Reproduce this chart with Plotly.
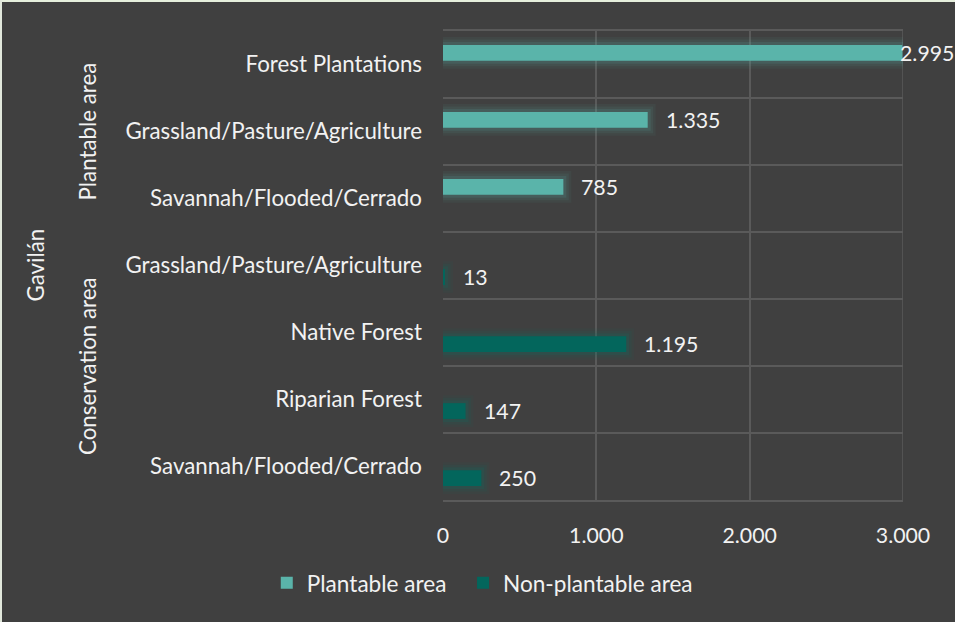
import plotly.graph_objects as go

# --- data -------------------------------------------------------------------
region = "Gavilán"
groups = ["Plantable area", "Plantable area", "Plantable area",
          "Conservation area", "Conservation area", "Conservation area",
          "Conservation area"]
land_cover = ["Forest Plantations", "Grassland/Pasture/Agriculture",
              "Savannah/Flooded/Cerrado", "Grassland/Pasture/Agriculture",
              "Native Forest", "Riparian Forest", "Savannah/Flooded/Cerrado"]
plantable = [2995, 1335, 785, None, None, None, None]
non_plantable = [None, None, None, 13, 1195, 147, 250]
series_names = ["Plantable area", "Non-plantable area"]
x_ticks = [0, 1000, 2000, 3000]
x_tick_labels = ["0", "1.000", "2.000", "3.000"]

# --- layout constants ---------------------------------------------------------
W, H = 955, 622
ML, MR, MT, MB = 443, 52, 31, 122
PLOT_W, PLOT_H = W - ML - MR, H - MT - MB
X_MAX = 3000

BG = "#404040"
GRID = "#5a5a5a"
TXT = "#F2F2F2"
FONT = "Lato"
FS_TEXT = 22.3     # category / group labels
FS_NUM = 21.3      # numbers
FS_LEG = 22.6
COLORS = ["#5AB4AA", "#03665C"]
GLOW_RGB = ["90,180,170", "3,120,105"]

BAR_W = 0.235             # bar thickness in category units
SHIFTS = [-0.172, 0.172]  # plantable sits above, non-plantable below the row centre
LABEL_GAP = 16            # px between bar end and its value label
LEGEND_PAD = "\u00a0" * 2  # extra room between legend entries

rows = list(range(len(land_cover)))


def px_x(px):
    """pixel column -> paper x"""
    return (px - ML) / PLOT_W


def px_y(py):
    """pixel row (from top) -> paper y"""
    return (H - py - MB) / PLOT_H


def fmt(v):
    return f"{v:,}".replace(",", ".")


fig = go.Figure()

series = [plantable, non_plantable]
for i, (values, name, color, glow, shift) in enumerate(zip(
        series, series_names, COLORS, GLOW_RGB, SHIFTS)):
    # soft glow behind each bar
    for lw, alpha in [(16, 0.06), (11, 0.09), (6, 0.14)]:
        fig.add_trace(go.Bar(
            x=values, y=rows, orientation="h", width=BAR_W,
            offset=shift - BAR_W / 2,
            marker=dict(color="rgba(0,0,0,0)",
                        line=dict(color=f"rgba({glow},{alpha})", width=lw)),
            showlegend=False, hoverinfo="skip"))
    legend_name = name + (LEGEND_PAD if i < len(series) - 1 else "")
    fig.add_trace(go.Bar(
        x=values, y=rows, orientation="h", width=BAR_W,
        offset=shift - BAR_W / 2, name=legend_name,
        marker=dict(color=color, line=dict(width=0))))

# value labels to the right of each bar
annotations = []
for values, shift in zip(series, SHIFTS):
    for r, v in zip(rows, values):
        if v is None:
            continue
        text = fmt(v)
        end_px = ML + v / X_MAX * PLOT_W
        est_w = len(text) * 0.52 * FS_NUM
        xshift = LABEL_GAP
        if end_px + LABEL_GAP + est_w > W - 2:
            xshift = (W - 2 - est_w) - end_px
        annotations.append(dict(
            x=v, y=r + shift, xref="x", yref="y", text=text,
            showarrow=False, xanchor="left", yanchor="middle", xshift=xshift,
            font=dict(family=FONT, size=FS_NUM, color=TXT)))

# group labels (rotated)
group_names = []
for g in groups:
    if g not in group_names:
        group_names.append(g)
for g in group_names:
    idx = [r for r, gg in zip(rows, groups) if gg == g]
    annotations.append(dict(
        x=px_x(87), y=sum(idx) / len(idx), xref="paper", yref="y",
        text=g, textangle=-90, showarrow=False,
        xanchor="center", yanchor="middle",
        font=dict(family=FONT, size=FS_TEXT, color=TXT)))

annotations.append(dict(
    x=px_x(35), y=(rows[0] + rows[-1]) / 2, xref="paper", yref="y",
    text=region, textangle=-90, showarrow=False,
    xanchor="center", yanchor="middle",
    font=dict(family=FONT, size=FS_TEXT, color=TXT)))

shapes = [
    # right-hand border of the plot area
    dict(type="line", xref="x", yref="paper", x0=X_MAX, x1=X_MAX, y0=0, y1=1,
         line=dict(color=GRID, width=1.5), layer="below"),
    # light frame strips along the top and left edges of the image
    dict(type="rect", xref="paper", yref="paper", x0=px_x(0), x1=px_x(W),
         y0=px_y(2), y1=px_y(0), fillcolor="#E6EFDD", line=dict(width=0),
         layer="above"),
    dict(type="rect", xref="paper", yref="paper", x0=px_x(0), x1=px_x(2),
         y0=px_y(H), y1=px_y(0), fillcolor="#E2E8DC", line=dict(width=0),
         layer="above"),
]

fig.update_layout(
    width=W, height=H,
    margin=dict(l=ML, r=MR, t=MT, b=MB, pad=0),
    paper_bgcolor=BG, plot_bgcolor=BG,
    barmode="overlay",
    separators=",.",
    font=dict(family=FONT, size=FS_TEXT, color=TXT),
    annotations=annotations,
    shapes=shapes,
    showlegend=True,
    legend=dict(orientation="h", xref="container", yref="container",
                x=0.505, xanchor="center", y=1 - 583 / H, yanchor="middle",
                itemwidth=30,
                font=dict(family=FONT, size=FS_LEG, color=TXT),
                bgcolor="rgba(0,0,0,0)", traceorder="normal"),
    xaxis=dict(range=[0, X_MAX], tickmode="array", tickvals=x_ticks,
               ticktext=x_tick_labels, showgrid=False, zeroline=False,
               showline=True, mirror=True, linecolor=GRID, linewidth=1.5,
               ticks="", ticklabelstandoff=16,
               tickfont=dict(family=FONT, size=FS_NUM, color=TXT),
               minor=dict(tickmode="array", tickvals=x_ticks[1:],
                          showgrid=True, gridcolor=GRID, gridwidth=1.5,
                          ticks="")),
    yaxis=dict(range=[len(rows) - 0.5, -0.5], tickmode="array",
               tickvals=rows, ticktext=land_cover, showgrid=False,
               zeroline=False, showline=False, ticks="",
               ticklabelstandoff=20,
               tickfont=dict(family=FONT, size=FS_TEXT, color=TXT),
               minor=dict(tickmode="array",
                          tickvals=[r - 0.5 for r in rows] + [rows[-1] + 0.5],
                          showgrid=True, gridcolor=GRID, gridwidth=1.5,
                          ticks="")),
)

fig.write_html("out.html")
